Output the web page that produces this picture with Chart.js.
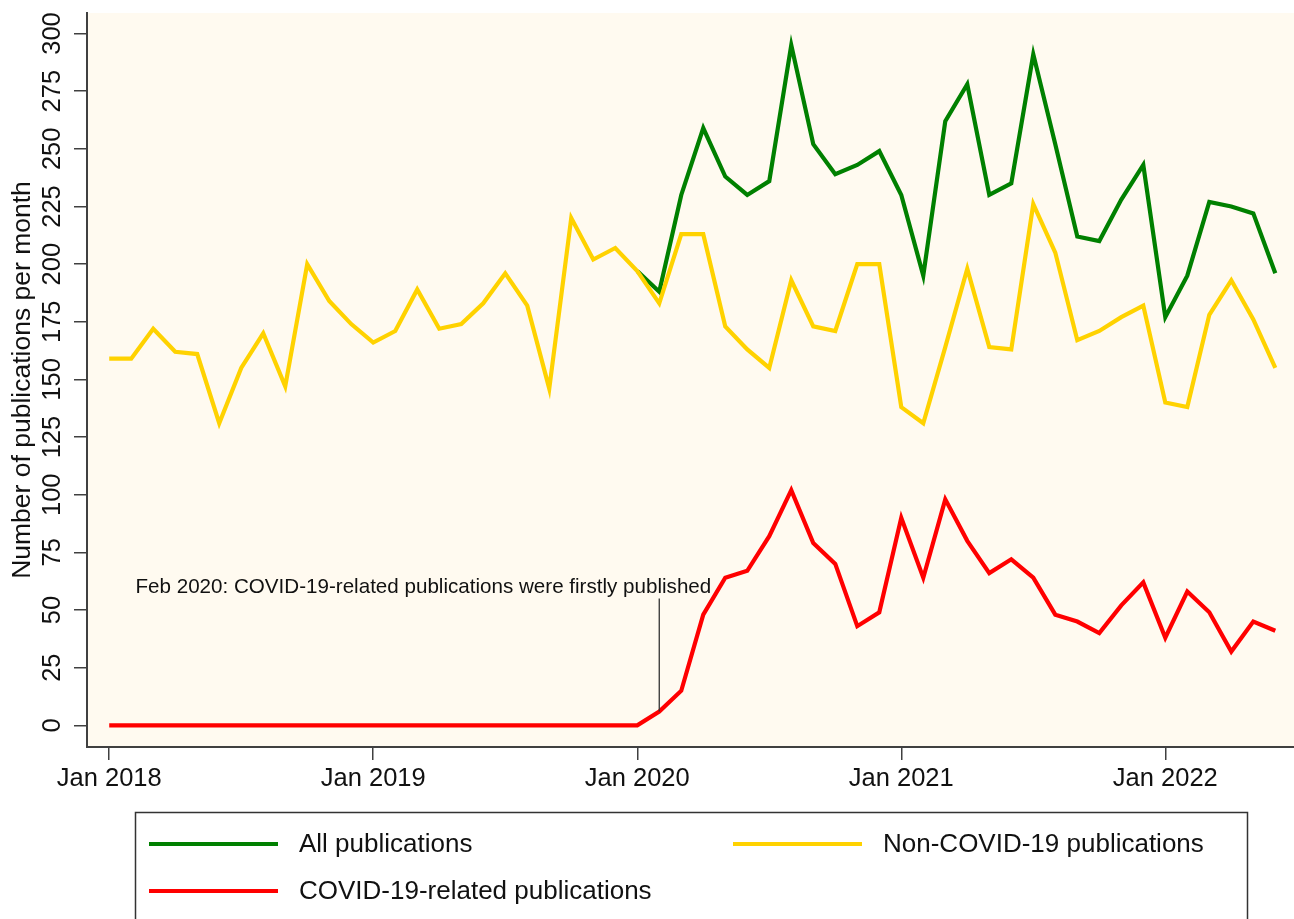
<!DOCTYPE html>
<html>
<head>
<meta charset="utf-8">
<title>Publications per month</title>
<script src="https://cdn.jsdelivr.net/npm/chart.js@4.4.1/dist/chart.umd.min.js"></script>
<style>
  html, body { margin: 0; padding: 0; background: #ffffff; }
  #wrap { width: 1294px; height: 919px; }
</style>
</head>
<body>
<div id="wrap"><canvas id="chart" width="1294" height="919"></canvas></div>
<script>
// months Jan 2018 .. Jun 2022, x position = index in this list
const months = [
  '2018-01', '2018-02', '2018-03', '2018-04', '2018-05', '2018-06', '2018-07', '2018-08', '2018-09', '2018-10', '2018-11', '2018-12',
  '2019-01', '2019-02', '2019-03', '2019-04', '2019-05', '2019-06', '2019-07', '2019-08', '2019-09', '2019-10', '2019-11', '2019-12',
  '2020-01', '2020-02', '2020-03', '2020-04', '2020-05', '2020-06', '2020-07', '2020-08', '2020-09', '2020-10', '2020-11', '2020-12',
  '2021-01', '2021-02', '2021-03', '2021-04', '2021-05', '2021-06', '2021-07', '2021-08', '2021-09', '2021-10', '2021-11', '2021-12',
  '2022-01', '2022-02', '2022-03', '2022-04', '2022-05', '2022-06'
];

const nonCovid = [
  159, 159, 172, 162, 161, 131, 155, 170, 147, 200, 184, 174,
  166, 171, 189, 172, 174, 183, 196, 182, 146, 220, 202, 207,
  197, 183, 213, 213, 173, 163, 155, 193, 173, 171, 200, 200,
  138, 131, 164, 198, 164, 163, 226, 205, 167, 171, 177, 182,
  140, 138, 178, 193, 176, 155
];

const covidRelated = [
  0, 0, 0, 0, 0, 0, 0, 0, 0, 0, 0, 0,
  0, 0, 0, 0, 0, 0, 0, 0, 0, 0, 0, 0,
  0, 6, 15, 48, 64, 67, 82, 102, 79, 70, 43, 49,
  90, 64, 98, 80, 66, 72, 64, 48, 45, 40, 52, 62,
  38, 58, 49, 32, 45, 41
];

// "All publications" is only drawn from Jan 2020 on
const allStart = months.indexOf('2020-01');
const allPubs = [
  197, 188, 230, 259, 238, 230, 236, 295, 252, 239, 243, 249,
  230, 195, 262, 278, 230, 235, 291, 252, 212, 210, 228, 243,
  177, 195, 227, 225, 222, 196
];

const xTickMonths = ['2018-01', '2019-01', '2020-01', '2021-01', '2022-01'];
const xTickLabels = ['Jan 2018', 'Jan 2019', 'Jan 2020', 'Jan 2021', 'Jan 2022'];
const yTicks = [0, 25, 50, 75, 100, 125, 150, 175, 200, 225, 250, 275, 300];

const annMonth = '2020-02';
const annText = 'Feb 2020: COVID-19-related publications were firstly published';

const FONT = '"Liberation Sans", Arial, sans-serif';
const INK = '#111111';
const AXIS = '#404040';

const toPoints = (vals, start) => vals.map((v, i) => ({ x: start + i, y: v }));

const plotBg = {
  id: 'plotBg',
  beforeDraw(chart) {
    const { ctx, chartArea: a } = chart;
    ctx.save();
    ctx.fillStyle = '#fffaf0';
    ctx.fillRect(a.left, a.top, a.right - a.left, a.bottom - a.top);
    ctx.restore();
  },
};

// y tick labels run bottom-to-top like the original
const yLabels = {
  id: 'yLabels',
  afterDraw(chart) {
    const { ctx } = chart;
    const y = chart.scales.y;
    ctx.save();
    ctx.font = '25.5px ' + FONT;
    ctx.fillStyle = INK;
    ctx.textAlign = 'center';
    ctx.textBaseline = 'middle';
    y.ticks.forEach((t) => {
      ctx.save();
      ctx.translate(53, y.getPixelForValue(t.value));
      ctx.rotate(-Math.PI / 2);
      ctx.fillText(String(t.value), 0, 0);
      ctx.restore();
    });
    ctx.restore();
  },
};

const annotation = {
  id: 'annotation',
  afterDatasetsDraw(chart) {
    const { ctx } = chart;
    const x = chart.scales.x;
    const y = chart.scales.y;
    const i = months.indexOf(annMonth);
    const px = x.getPixelForValue(i);
    ctx.save();
    ctx.strokeStyle = '#333';
    ctx.lineWidth = 1.3;
    ctx.beginPath();
    ctx.moveTo(px, y.getPixelForValue(55));
    ctx.lineTo(px, y.getPixelForValue(covidRelated[i]));
    ctx.stroke();
    ctx.font = '20.6px ' + FONT;
    ctx.fillStyle = INK;
    ctx.textAlign = 'right';
    ctx.textBaseline = 'middle';
    ctx.fillText(annText, px + 52, y.getPixelForValue(60));
    ctx.restore();
  },
};

const legendBox = {
  id: 'legendBox',
  afterDraw(chart) {
    const { ctx } = chart;
    const ds = chart.data.datasets;
    const items = [
      { d: ds[0], x: 149, y: 844 },
      { d: ds[1], x: 733, y: 844 },
      { d: ds[2], x: 149, y: 891 },
    ];
    ctx.save();
    ctx.strokeStyle = '#333';
    ctx.lineWidth = 1.5;
    ctx.strokeRect(135.5, 812.5, 1112, 130);
    ctx.font = '26px ' + FONT;
    ctx.fillStyle = INK;
    ctx.textBaseline = 'middle';
    items.forEach((it) => {
      ctx.strokeStyle = it.d.borderColor;
      ctx.lineWidth = 4;
      ctx.beginPath();
      ctx.moveTo(it.x, it.y);
      ctx.lineTo(it.x + 129, it.y);
      ctx.stroke();
      ctx.fillText(it.d.label, it.x + 150, it.y + 1);
    });
    ctx.restore();
  },
};

new Chart(document.getElementById('chart'), {
  type: 'line',
  data: {
    datasets: [
      {
        label: 'All publications',
        data: toPoints(allPubs, allStart),
        borderColor: '#008000',
        order: 3,
      },
      {
        label: 'Non-COVID-19 publications',
        data: toPoints(nonCovid, 0),
        borderColor: '#ffd200',
        order: 2,
      },
      {
        label: 'COVID-19-related publications',
        data: toPoints(covidRelated, 0),
        borderColor: '#ff0000',
        order: 1,
      },
    ],
  },
  options: {
    responsive: false,
    animation: false,
    layout: { padding: { top: 13, left: 0, right: 0, bottom: 0 } },
    elements: {
      line: { borderWidth: 4.2, tension: 0, fill: false },
      point: { radius: 0, hoverRadius: 0 },
    },
    plugins: {
      legend: { display: false },
      tooltip: { enabled: false },
    },
    scales: {
      x: {
        type: 'linear',
        min: -1.01,
        max: 53.85,
        afterBuildTicks: (scale) => {
          scale.ticks = xTickMonths.map((m) => ({ value: months.indexOf(m) }));
        },
        afterFit: (scale) => {
          scale.height = 172;
        },
        ticks: {
          autoSkip: false,
          maxRotation: 0,
          padding: 4,
          color: INK,
          font: { family: FONT, size: 25.5 },
          callback: (value, index) => xTickLabels[index],
        },
        grid: { drawOnChartArea: false, tickLength: 13, color: AXIS, lineWidth: 1.5 },
        border: { color: AXIS, width: 2 },
      },
      y: {
        min: -9.4,
        max: 308.9,
        afterBuildTicks: (scale) => {
          scale.ticks = yTicks.map((v) => ({ value: v }));
        },
        afterFit: (scale) => {
          scale.width = 87;
        },
        ticks: { display: false },
        title: {
          display: true,
          text: 'Number of publications per month',
          color: INK,
          font: { family: FONT, size: 26.5 },
          padding: { top: 7, bottom: 0 },
        },
        grid: { drawOnChartArea: false, tickLength: 13, color: AXIS, lineWidth: 1.5 },
        border: { color: AXIS, width: 2 },
      },
    },
  },
  plugins: [plotBg, yLabels, annotation, legendBox],
});
</script>
</body>
</html>
